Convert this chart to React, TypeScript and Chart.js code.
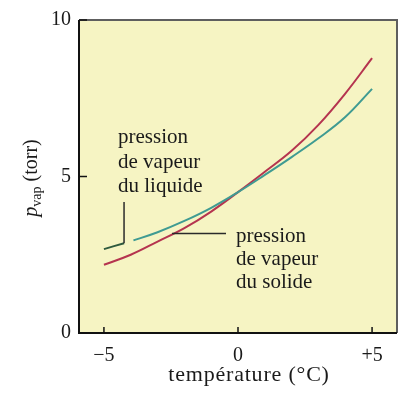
import React, { useEffect, useRef } from 'react';
import { Chart, registerables } from 'chart.js';
Chart.register(...registerables);

const FONT = '"Liberation Serif", "Times New Roman", serif';

// temperature (°C) / pressure (torr)
const liquidT = [-5, -4.25, -3.9, -3, -2, -1, 0, 1, 2, 3, 4, 5];
const liquidP = [2.68, 2.87, 2.96, 3.22, 3.58, 4.0, 4.5, 5.05, 5.62, 6.22, 6.9, 7.8];
const solidT = [-5, -4, -3, -2, -1, 0, 1, 2, 3, 4, 5];
const solidP = [2.18, 2.5, 2.92, 3.35, 3.88, 4.5, 5.15, 5.82, 6.65, 7.65, 8.78];
const xTicks = [-5, 0, 5];
const xTickLabels = ['\u22125', '0', '+5'];
const yTicks = [0, 5, 10];
const yTickLabels = ['0', '5', '10'];
const liquidLabel = ['pression', 'de vapeur', 'du liquide'];
const solidLabel = ['pression', 'de vapeur', 'du solide'];
const xTitle = 'température (°C)';

const decor = {
  id: 'decor',
  beforeDraw(chart: any) {
    const { ctx, chartArea: a } = chart;
    ctx.save();
    ctx.fillStyle = '#f6f4c3';
    ctx.fillRect(a.left, a.top, a.right - a.left, a.bottom - a.top);
    ctx.restore();
  },
  afterDraw(chart: any) {
    const { ctx, chartArea: a } = chart;
    const xs = chart.scales.x;
    const ys = chart.scales.y;
    ctx.save();
    // frame
    ctx.lineWidth = 2;
    ctx.strokeStyle = '#5e5e5e';
    ctx.beginPath();
    ctx.moveTo(a.left, a.top);
    ctx.lineTo(a.right, a.top);
    ctx.lineTo(a.right, a.bottom);
    ctx.stroke();
    ctx.strokeStyle = '#111';
    ctx.beginPath();
    ctx.moveTo(a.left, a.top);
    ctx.lineTo(a.left, a.bottom);
    ctx.lineTo(a.right, a.bottom);
    ctx.stroke();
    // inward ticks
    ctx.lineWidth = 1.5;
    xTicks.forEach((v) => {
      const px = xs.getPixelForValue(v);
      ctx.beginPath();
      ctx.moveTo(px, a.bottom);
      ctx.lineTo(px, a.bottom - 6);
      ctx.stroke();
    });
    yTicks.forEach((v) => {
      const py = ys.getPixelForValue(v);
      ctx.beginPath();
      ctx.moveTo(a.left, py);
      ctx.lineTo(a.left + 8, py);
      ctx.stroke();
    });
    // leader lines
    ctx.strokeStyle = '#2a2a2a';
    ctx.lineWidth = 1.5;
    const lx = xs.getPixelForValue(-4.25);
    ctx.beginPath();
    ctx.moveTo(lx, 202);
    ctx.lineTo(lx, ys.getPixelForValue(2.87));
    ctx.stroke();
    const sx = xs.getPixelForValue(-2.46);
    const sy = ys.getPixelForValue(3.18);
    ctx.beginPath();
    ctx.moveTo(sx, sy);
    ctx.lineTo(226, sy);
    ctx.stroke();
    // annotation text
    ctx.fillStyle = '#1a1a1a';
    ctx.font = `21px ${FONT}`;
    ctx.textBaseline = 'alphabetic';
    ctx.textAlign = 'left';
    liquidLabel.forEach((t, i) => ctx.fillText(t, 118, 143 + i * 24.5));
    solidLabel.forEach((t, i) => ctx.fillText(t, 236, 242 + i * 23));
    // x title
    ctx.textAlign = 'center';
    ctx.font = `22px ${FONT}`;
    (ctx as any).letterSpacing = '0.8px';
    ctx.fillText(xTitle, 249, 381);
    (ctx as any).letterSpacing = '0px';
    // y title (rotated, with subscript)
    ctx.translate(31, 178);
    ctx.rotate(-Math.PI / 2);
    const fBig = `20px ${FONT}`;
    const fIt = `italic 20px ${FONT}`;
    const fSub = `14px ${FONT}`;
    ctx.font = fIt;
    const wP = ctx.measureText('p').width;
    ctx.font = fSub;
    const wSub = ctx.measureText('vap').width;
    ctx.font = fBig;
    const wRest = ctx.measureText(' (torr)').width;
    let x0 = -(wP + wSub + wRest) / 2;
    ctx.textAlign = 'left';
    ctx.font = fIt;
    ctx.fillText('p', x0, 6);
    x0 += wP;
    ctx.font = fSub;
    ctx.fillText('vap', x0, 10);
    x0 += wSub;
    ctx.font = fBig;
    ctx.fillText(' (torr)', x0, 6);
    ctx.restore();
  },
};

export default function App() {
  const ref = useRef<HTMLCanvasElement>(null);
  useEffect(() => {
    if (!ref.current) return;
    const chart = new Chart(ref.current, {
      type: 'line',
      data: {
        datasets: [
          {
            label: 'liquide',
            data: liquidT.map((t, i) => ({ x: t, y: liquidP[i] })),
            borderColor: '#3f9b92',
            borderWidth: 2,
            pointRadius: 0,
            tension: 0.4,
            segment: {
              borderColor: (c: any) =>
                c.p0DataIndex === 0 ? '#2f5a3e' : c.p0DataIndex === 1 ? 'rgba(0,0,0,0)' : '#3f9b92',
            },
          },
          {
            label: 'solide',
            data: solidT.map((t, i) => ({ x: t, y: solidP[i] })),
            borderColor: '#b5344f',
            borderWidth: 2,
            pointRadius: 0,
            tension: 0.4,
          },
        ],
      },
      options: {
        animation: false,
        responsive: false,
        layout: { padding: { left: 0, top: 15, right: 6, bottom: 0 } },
        plugins: { legend: { display: false }, tooltip: { enabled: false } },
        scales: {
          x: {
            type: 'linear',
            min: -5.93,
            max: 5.93,
            afterFit: (s: any) => { s.height = 61; },
            afterBuildTicks: (s: any) => { s.ticks = xTicks.map((v) => ({ value: v })); },
            grid: { display: false, drawTicks: false },
            border: { display: false },
            ticks: {
              padding: 11,
              color: '#1a1a1a',
              font: { family: FONT, size: 20 },
              callback: (v: any) => xTickLabels[xTicks.indexOf(Number(v))],
            },
          },
          y: {
            type: 'linear',
            min: 0,
            max: 10,
            afterFit: (s: any) => { s.width = 79; },
            afterBuildTicks: (s: any) => { s.ticks = yTicks.map((v) => ({ value: v })); },
            grid: { display: false, drawTicks: false },
            border: { display: false },
            ticks: {
              padding: 8,
              color: '#1a1a1a',
              font: { family: FONT, size: 20 },
              callback: (v: any) => yTickLabels[yTicks.indexOf(Number(v))],
            },
          },
        },
      },
      plugins: [decor],
    });
    return () => chart.destroy();
  }, []);
  return (
    <div style={{ position: 'fixed', left: 0, top: 0, width: 403, height: 394, background: '#fff' }}>
      <canvas ref={ref} width={403} height={394} />
    </div>
  );
}
